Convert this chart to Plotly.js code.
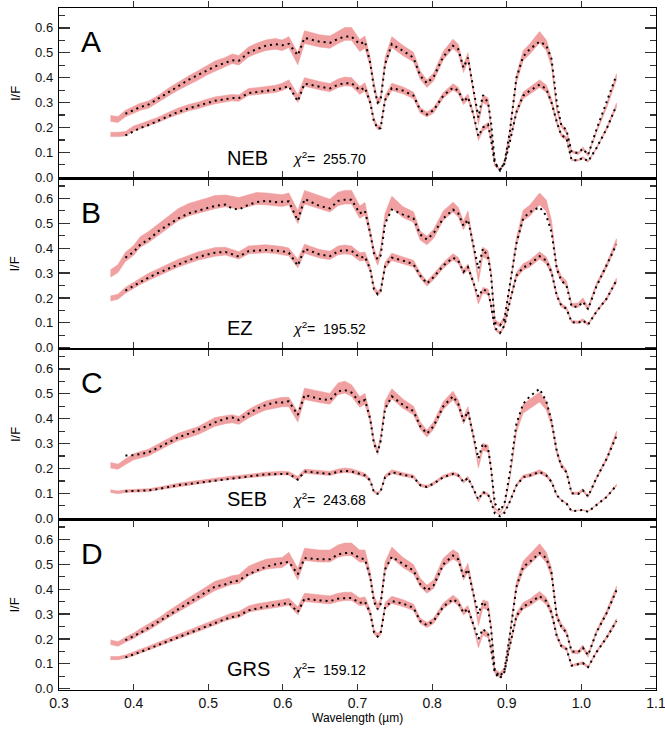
<!DOCTYPE html>
<html>
<head>
<meta charset="utf-8">
<script src="https://cdn.plot.ly/plotly-3.0.1.min.js"></script>
<style>html,body{margin:0;padding:0;background:#fff;}#chart{width:665px;height:732px;}</style>
</head>
<body>
<div id="chart"></div>
<script>
// Wavelength grid (µm)
const wl = [0.369,0.379,0.389,0.400,0.409,0.420,0.434,0.447,0.460,0.474,0.487,0.498,
0.509,0.523,0.532,0.541,0.554,0.565,0.577,0.590,0.599,0.608,0.620,0.629,
0.649,0.663,0.674,0.683,0.692,0.703,0.710,0.717,0.722,0.727,0.731,0.737,
0.746,0.761,0.775,0.784,0.793,0.802,0.815,0.828,0.835,0.842,0.848,0.855,
0.862,0.868,0.875,0.879,0.884,0.891,0.897,0.904,0.913,0.922,0.931,0.944,
0.953,0.960,0.967,0.973,0.980,0.987,0.996,1.002,1.009,1.020,1.034,1.047];

// relative observational uncertainty (half width of band / value)
const relErr = [0.05,0.05,0.05,0.05,0.05,0.05,0.045,0.045,0.045,0.045,0.045,0.045,
0.045,0.04,0.04,0.04,0.04,0.04,0.04,0.04,0.04,0.04,0.05,0.045,
0.045,0.045,0.045,0.045,0.045,0.045,0.045,0.04,0.04,0.04,0.04,0.04,
0.04,0.04,0.04,0.04,0.04,0.04,0.035,0.035,0.035,0.035,0.035,0.035,
0.05,0.05,0.05,0.05,0.08,0.08,0.08,0.04,0.04,0.04,0.04,0.04,
0.04,0.04,0.04,0.04,0.04,0.04,0.05,0.05,0.05,0.03,0.03,0.03];

// Panel A — NEB
const nebUpObs = [0.236,0.232,0.256,0.270,0.283,0.292,0.316,0.343,0.367,0.390,0.410,0.430,
0.447,0.463,0.476,0.470,0.503,0.518,0.530,0.536,0.530,0.543,0.476,0.563,
0.548,0.543,0.563,0.576,0.576,0.529,0.543,0.463,0.370,0.303,0.316,0.463,
0.543,0.509,0.483,0.410,0.376,0.403,0.489,0.536,0.516,0.436,0.483,0.356,
0.223,0.316,0.303,0.200,0.050,0.030,0.063,0.183,0.396,0.489,0.516,0.563,
0.530,0.463,0.276,0.209,0.183,0.103,0.096,0.116,0.089,0.183,0.289,0.403];
const nebUpMod = [null,null,0.255,0.270,0.282,0.292,0.318,0.345,0.368,0.392,0.412,0.430,
0.445,0.460,0.470,0.468,0.500,0.515,0.528,0.535,0.530,0.536,0.490,0.560,
0.545,0.540,0.556,0.565,0.565,0.535,0.545,0.460,0.360,0.300,0.310,0.455,
0.535,0.508,0.480,0.408,0.378,0.403,0.485,0.528,0.515,0.440,0.480,0.360,
0.240,0.330,0.300,0.220,0.060,0.027,0.060,0.180,0.400,0.485,0.515,0.545,
0.530,0.475,0.300,0.210,0.190,0.100,0.098,0.115,0.090,0.190,0.300,0.410];
const nebLoObs = [0.172,0.172,0.175,0.196,0.205,0.216,0.232,0.250,0.266,0.280,0.289,0.300,
0.309,0.316,0.320,0.318,0.343,0.346,0.349,0.355,0.363,0.376,0.316,0.383,
0.368,0.360,0.378,0.385,0.383,0.349,0.363,0.303,0.230,0.200,0.200,0.316,
0.363,0.349,0.329,0.269,0.252,0.269,0.329,0.363,0.349,0.303,0.323,0.256,
0.156,0.196,0.209,0.150,0.050,0.030,0.056,0.143,0.263,0.329,0.349,0.376,
0.356,0.303,0.223,0.169,0.156,0.069,0.069,0.079,0.063,0.116,0.196,0.289];
const nebLoMod = [null,null,0.168,0.185,0.198,0.210,0.228,0.246,0.263,0.277,0.288,0.298,
0.307,0.314,0.318,0.318,0.338,0.342,0.346,0.352,0.358,0.366,0.305,0.376,
0.364,0.357,0.372,0.378,0.378,0.350,0.360,0.300,0.225,0.195,0.198,0.310,
0.358,0.348,0.328,0.270,0.252,0.270,0.328,0.360,0.348,0.303,0.322,0.256,
0.165,0.200,0.212,0.150,0.055,0.030,0.055,0.140,0.262,0.328,0.348,0.372,
0.355,0.300,0.222,0.170,0.157,0.068,0.068,0.078,0.064,0.116,0.196,0.288];

// Panel B — EZ
const ezUpObs = [0.298,0.318,0.365,0.391,0.425,0.445,0.478,0.505,0.535,0.555,0.565,0.575,
0.585,0.590,0.585,0.580,0.591,0.600,0.598,0.595,0.591,0.598,0.525,0.605,
0.585,0.571,0.598,0.605,0.605,0.545,0.558,0.465,0.385,0.345,0.385,0.520,
0.585,0.545,0.525,0.451,0.431,0.458,0.531,0.565,0.545,0.491,0.531,0.411,
0.278,0.385,0.371,0.300,0.105,0.091,0.118,0.238,0.425,0.531,0.551,0.598,
0.571,0.491,0.318,0.278,0.258,0.171,0.171,0.191,0.158,0.251,0.331,0.425];
const ezUpMod = [null,null,0.362,0.385,0.415,0.435,0.470,0.495,0.520,0.540,0.550,0.560,
0.570,0.575,0.560,0.555,0.575,0.585,0.590,0.585,0.585,0.588,0.510,0.598,
0.570,0.560,0.590,0.595,0.595,0.540,0.550,0.460,0.380,0.355,0.370,0.500,
0.555,0.535,0.520,0.455,0.435,0.460,0.520,0.555,0.540,0.490,0.515,0.410,
0.318,0.398,0.365,0.290,0.100,0.090,0.115,0.250,0.420,0.520,0.545,0.565,
0.531,0.465,0.318,0.270,0.250,0.165,0.165,0.185,0.155,0.245,0.330,0.415];
const ezLoObs = [0.198,0.205,0.231,0.251,0.268,0.285,0.305,0.322,0.340,0.355,0.369,0.377,
0.385,0.388,0.380,0.371,0.393,0.396,0.398,0.394,0.391,0.385,0.338,0.398,
0.378,0.371,0.391,0.395,0.391,0.365,0.368,0.318,0.240,0.218,0.230,0.331,
0.365,0.351,0.338,0.291,0.258,0.285,0.331,0.365,0.351,0.305,0.325,0.265,
0.185,0.231,0.225,0.170,0.078,0.058,0.091,0.185,0.291,0.325,0.338,0.371,
0.351,0.305,0.211,0.171,0.158,0.105,0.102,0.111,0.094,0.145,0.198,0.271];
const ezLoMod = [null,null,0.230,0.248,0.265,0.282,0.302,0.318,0.336,0.352,0.365,0.374,
0.382,0.385,0.375,0.366,0.388,0.390,0.393,0.390,0.388,0.382,0.330,0.398,
0.375,0.368,0.388,0.392,0.390,0.362,0.366,0.316,0.235,0.215,0.228,0.328,
0.362,0.350,0.336,0.290,0.258,0.284,0.330,0.362,0.350,0.305,0.324,0.265,
0.205,0.235,0.225,0.170,0.080,0.060,0.090,0.183,0.290,0.322,0.336,0.368,
0.350,0.303,0.210,0.170,0.157,0.103,0.100,0.110,0.093,0.144,0.198,0.270];

// Panel C — SEB
const sebUpObs = [0.213,0.207,0.227,0.247,0.255,0.264,0.287,0.307,0.327,0.340,0.353,0.370,
0.387,0.396,0.400,0.393,0.420,0.437,0.453,0.462,0.467,0.467,0.407,0.500,
0.487,0.480,0.520,0.527,0.513,0.467,0.480,0.400,0.307,0.267,0.320,0.453,
0.500,0.460,0.433,0.373,0.340,0.373,0.453,0.493,0.460,0.393,0.433,0.333,
0.213,0.287,0.280,0.200,0.040,0.022,0.053,0.160,0.360,0.440,0.460,0.487,
0.453,0.387,0.267,0.213,0.187,0.100,0.100,0.113,0.087,0.160,0.240,0.340];
const sebUpMod = [null,null,0.252,0.253,0.258,0.265,0.285,0.305,0.325,0.340,0.355,0.370,
0.385,0.400,0.405,0.395,0.420,0.440,0.455,0.465,0.465,0.470,0.415,0.495,
0.480,0.475,0.510,0.515,0.505,0.465,0.475,0.400,0.300,0.265,0.310,0.440,
0.490,0.455,0.430,0.370,0.340,0.370,0.450,0.490,0.460,0.390,0.430,0.340,
0.240,0.300,0.280,0.200,0.060,0.030,0.060,0.180,0.380,0.460,0.490,0.520,
0.470,0.390,0.270,0.210,0.185,0.100,0.098,0.112,0.088,0.160,0.240,0.330];
const sebLoObs = [0.109,0.104,0.109,0.110,0.111,0.113,0.120,0.128,0.135,0.140,0.145,0.150,
0.155,0.160,0.163,0.165,0.170,0.174,0.178,0.180,0.182,0.180,0.160,0.189,
0.184,0.180,0.189,0.193,0.190,0.180,0.173,0.153,0.107,0.100,0.110,0.167,
0.187,0.176,0.167,0.133,0.127,0.140,0.167,0.180,0.173,0.147,0.163,0.120,
0.069,0.104,0.096,0.070,0.027,0.013,0.027,0.067,0.133,0.167,0.173,0.187,
0.173,0.147,0.093,0.073,0.060,0.029,0.033,0.033,0.027,0.053,0.087,0.133];
const sebLoMod = [null,null,0.108,0.109,0.110,0.112,0.118,0.126,0.133,0.138,0.143,0.148,
0.153,0.158,0.161,0.163,0.168,0.172,0.176,0.178,0.180,0.179,0.155,0.188,
0.182,0.178,0.187,0.190,0.188,0.178,0.172,0.152,0.105,0.098,0.108,0.165,
0.185,0.175,0.166,0.133,0.126,0.139,0.165,0.178,0.172,0.146,0.162,0.120,
0.075,0.105,0.096,0.065,0.020,0.008,0.022,0.066,0.132,0.165,0.172,0.186,
0.172,0.146,0.093,0.072,0.060,0.028,0.032,0.033,0.026,0.052,0.086,0.132];

// Panel D — GRS
const grsUpObs = [0.187,0.180,0.197,0.213,0.230,0.247,0.273,0.300,0.325,0.350,0.373,0.393,
0.413,0.427,0.437,0.440,0.473,0.487,0.500,0.505,0.507,0.527,0.460,0.540,
0.533,0.533,0.553,0.560,0.560,0.533,0.533,0.453,0.360,0.327,0.347,0.490,
0.547,0.507,0.480,0.427,0.400,0.420,0.507,0.540,0.527,0.453,0.487,0.387,
0.267,0.340,0.333,0.250,0.073,0.060,0.080,0.213,0.413,0.493,0.520,0.560,
0.527,0.467,0.293,0.253,0.227,0.149,0.147,0.167,0.133,0.227,0.307,0.400];
const grsUpMod = [null,null,0.195,0.210,0.225,0.245,0.270,0.295,0.320,0.345,0.368,0.390,
0.410,0.420,0.430,0.435,0.460,0.475,0.490,0.500,0.505,0.510,0.460,0.525,
0.520,0.520,0.540,0.545,0.545,0.525,0.520,0.450,0.350,0.320,0.340,0.480,
0.530,0.500,0.475,0.420,0.395,0.415,0.500,0.535,0.520,0.450,0.480,0.385,
0.300,0.350,0.320,0.240,0.070,0.050,0.075,0.210,0.410,0.490,0.510,0.545,
0.525,0.465,0.290,0.250,0.225,0.150,0.148,0.165,0.135,0.225,0.305,0.395];
const grsLoObs = [0.123,0.123,0.129,0.140,0.150,0.163,0.180,0.195,0.210,0.225,0.240,0.255,
0.268,0.285,0.293,0.298,0.320,0.328,0.333,0.340,0.344,0.350,0.313,0.367,
0.360,0.357,0.367,0.371,0.371,0.349,0.353,0.307,0.230,0.213,0.225,0.333,
0.357,0.344,0.327,0.273,0.256,0.273,0.333,0.363,0.347,0.307,0.323,0.260,
0.173,0.227,0.216,0.160,0.067,0.047,0.073,0.173,0.293,0.333,0.347,0.376,
0.353,0.307,0.213,0.173,0.160,0.093,0.100,0.104,0.087,0.147,0.207,0.273];
const grsLoMod = [null,null,0.126,0.137,0.147,0.160,0.177,0.192,0.207,0.222,0.237,0.252,
0.265,0.280,0.288,0.294,0.315,0.323,0.330,0.336,0.340,0.345,0.308,0.362,
0.355,0.352,0.362,0.365,0.365,0.345,0.350,0.305,0.228,0.210,0.222,0.328,
0.352,0.342,0.325,0.272,0.255,0.272,0.330,0.360,0.345,0.305,0.322,0.260,
0.200,0.240,0.222,0.160,0.062,0.042,0.068,0.172,0.292,0.330,0.345,0.372,
0.352,0.305,0.212,0.172,0.160,0.093,0.098,0.103,0.087,0.146,0.206,0.272];

const panelLetters = ['A','B','C','D'];
const regionNames = ['NEB','EZ','SEB','GRS'];
const chi2Values = ['255.70','195.52','243.68','159.12'];

const panels = [
  {obs:[nebUpObs,nebLoObs], mod:[nebUpMod,nebLoMod]},
  {obs:[ezUpObs,ezLoObs], mod:[ezUpMod,ezLoMod]},
  {obs:[sebUpObs,sebLoObs], mod:[sebUpMod,sebLoMod]},
  {obs:[grsUpObs,grsLoObs], mod:[grsUpMod,grsLoMod]}
];

const FONT = '"Liberation Sans", Arial, Helvetica, sans-serif';
const BAND = 'rgb(240,160,160)';
const traces = [];
const yNames = ['y','y2','y3','y4'];

panels.forEach((p, i) => {
  const ya = yNames[i];
  p.obs.forEach(obs => {
    const up = obs.map((v, k) => v * (1 + relErr[k]));
    const lo = obs.map((v, k) => v * (1 - relErr[k]));
    traces.push({
      type:'scatter', mode:'lines', xaxis:'x', yaxis:ya,
      x: wl.concat(wl.slice().reverse()),
      y: up.concat(lo.slice().reverse()),
      fill:'toself', fillcolor:BAND,
      line:{width:0.6, color:BAND}, hoverinfo:'skip', showlegend:false
    });
  });
  p.mod.forEach(mod => {
    traces.push({
      type:'scatter', mode:'lines', xaxis:'x', yaxis:ya,
      x: wl, y: mod, connectgaps:false,
      line:{color:'#000', width:2, dash:'2px,4px'}, showlegend:false
    });
  });
});

const domains = [[0.75,1],[0.5,0.75],[0.25,0.5],[0,0.25]];
const layout = {
  width:665, height:732,
  margin:{l:59, r:9, t:8, b:42},
  paper_bgcolor:'#fff', plot_bgcolor:'#fff',
  font:{family:FONT, color:'#111', size:13},
  showlegend:false,
  xaxis:{
    range:[0.3,1.1], dtick:0.1, tick0:0.3, tickformat:'.1f',
    anchor:'y4', ticks:'inside', ticklen:6, tickwidth:1.2, tickcolor:'#333',
    showline:true, linecolor:'#000', linewidth:1.2, mirror:'allticks',
    showgrid:false, zeroline:false, ticklabeloverflow:'allow',
    tickfont:{size:14, family:FONT, color:'#111'}
  },
  annotations:[]
};
yNames.forEach((ya, i) => {
  const key = i === 0 ? 'yaxis' : 'yaxis' + (i + 1);
  layout[key] = {
    domain: domains[i], range:[-0.005,0.68], dtick:0.1, tick0:0, tickformat:'.1f',
    anchor:'x', ticks:'inside', ticklen:11, tickwidth:1.2, tickcolor:'#333',
    minor:{dtick:0.05, tick0:0, ticks:'inside', ticklen:6, tickwidth:1.2, tickcolor:'#333'},
    showline:true, linecolor:'#000', linewidth:1.2, mirror:'allticks',
    showgrid:false, zeroline:false, ticklabelstandoff:2,
    tickfont:{size:13, family:FONT, color:'#111'}
  };
  const yr = ya;
  layout.annotations.push({
    xref:'x', yref:yr, x:0.327, y:0.545, xanchor:'left', yanchor:'middle',
    text:panelLetters[i], showarrow:false, font:{size:30, family:FONT, color:'#000'}
  });
  layout.annotations.push({
    xref:'x', yref:yr, x:0.522, y:0.078, xanchor:'left', yanchor:'middle',
    text:regionNames[i], showarrow:false, font:{size:20, family:FONT, color:'#000'}
  });
  layout.annotations.push({
    xref:'x', yref:yr, x:0.609, y:0.078, xanchor:'left', yanchor:'middle',
    text:'<i>χ</i><sup>2</sup>=  ' + chi2Values[i], showarrow:false,
    font:{size:14, family:FONT, color:'#000'}
  });
  layout.annotations.push({
    xref:'paper', yref:'paper', x:-0.074, y:(domains[i][0] + domains[i][1]) / 2,
    xanchor:'center', yanchor:'middle', textangle:-90,
    text:'I/F', showarrow:false, font:{size:13, family:FONT, color:'#000'}
  });
});
layout.annotations.push({
  xref:'paper', yref:'paper', x:0.5, y:-0.041, xanchor:'center', yanchor:'middle',
  text:'Wavelength (µm)', showarrow:false, font:{size:12, family:FONT, color:'#000'}
});

Plotly.newPlot('chart', traces, layout, {displayModeBar:false, staticPlot:true});
</script>
</body>
</html>
